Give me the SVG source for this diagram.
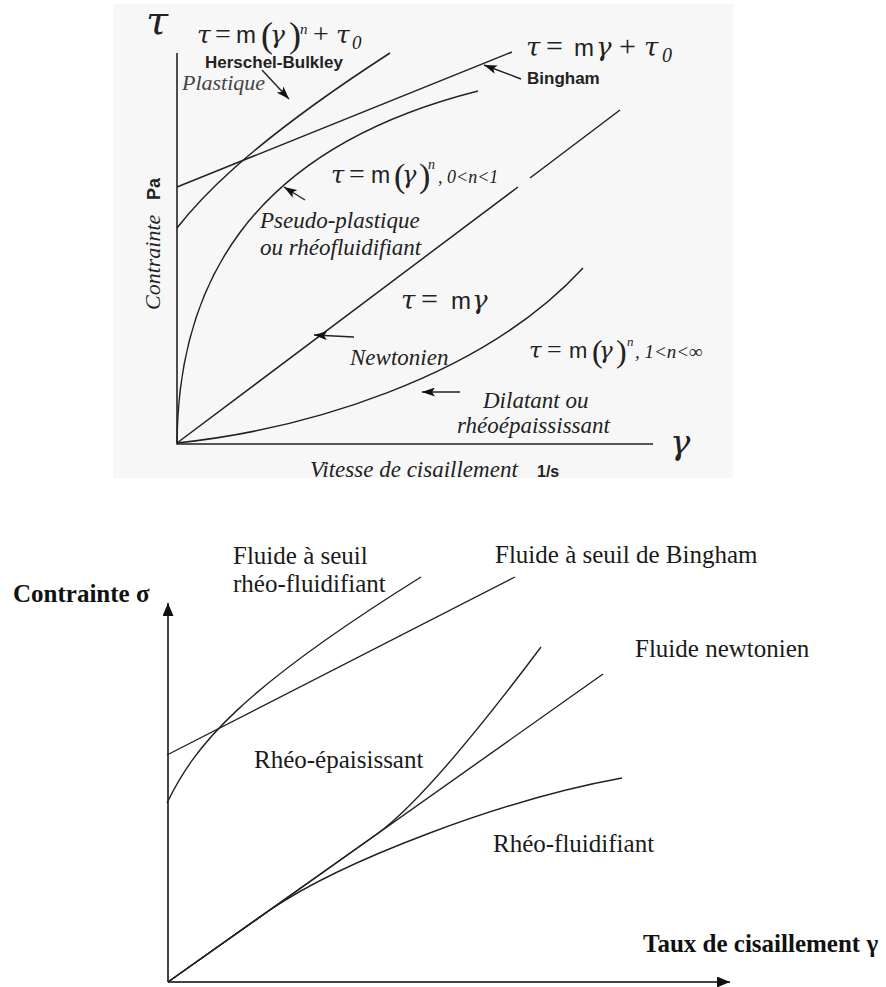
<svg xmlns="http://www.w3.org/2000/svg" width="886" height="987" viewBox="0 0 886 987">
<defs>
<style>
.ax{fill:none;stroke:#222;stroke-width:1.6}
.cv{fill:none;stroke:#222;stroke-width:1.5}
.ar{fill:none;stroke:#222;stroke-width:1.4}
.bax{fill:none;stroke:#444;stroke-width:2}
.bcv{fill:none;stroke:#222;stroke-width:1.4}
.it{font-family:"Liberation Serif",serif;font-style:italic;fill:#222}
.gk{font-family:"DejaVu Serif","Liberation Serif",serif;font-style:italic;fill:#222}
.sr{font-family:"Liberation Serif",serif;fill:#222}
.sb{font-family:"Liberation Sans",Arial,sans-serif;font-weight:bold;fill:#222}
.ss{font-family:"Liberation Sans",Arial,sans-serif;fill:#222}
.bt{font-family:"Liberation Serif",serif;font-size:25px;fill:#1a1a1a}
.bb{font-family:"Liberation Serif",serif;font-size:25px;font-weight:bold;fill:#111}
</style>
<marker id="ah" markerUnits="userSpaceOnUse" markerWidth="14" markerHeight="9" refX="13" refY="4.5" orient="auto"><path d="M0,0 L13,4.5 L0,9 L3,4.5 z" fill="#111"/></marker>
<marker id="bah" markerUnits="userSpaceOnUse" markerWidth="14" markerHeight="12" refX="13" refY="5.5" orient="auto"><path d="M0,0 L13,5.5 L0,11 z" fill="#111"/></marker>
</defs>
<rect width="886" height="987" fill="#fff"/>

<g id="top-chart">
<rect x="113" y="4" width="620" height="474" fill="#f7f7f7"/>
<g id="top-axes">
<path class="ax" d="M177,53 V444 H653"/>
<text class="gk" x="146" y="34" font-size="40">τ</text>
<text class="gk" x="670" y="454" font-size="34">γ</text>
<text class="it" transform="translate(160,310) rotate(-90)" font-size="22">Contrainte</text>
<text class="sb" transform="translate(160,200) rotate(-90)" font-size="18">Pa</text>
<text class="it" x="310" y="477" font-size="23">Vitesse de cisaillement</text>
<text class="sb" x="537" y="477" font-size="16">1/s</text>
</g>
<g id="top-curves">
<path id="hb" class="cv" d="M177,228 C195,205 240,150 390,53"/>
<path id="bingham" class="cv" d="M177,187 L512,52"/>
<path id="pseudo" class="cv" d="M177,443 C178,290 245,150 478,91"/>
<path id="newton" class="cv" d="M177,443 L518,187 M530,178 L620,110"/>
<path id="dilatant" class="cv" d="M177,443 C300,430 480,380 583,268"/>
</g>
<g id="top-arrows">
<path class="ar" d="M262,70 L289,99" marker-end="url(#ah)"/>
<path class="ar" d="M521,79 L484,65" marker-end="url(#ah)"/>
<path class="ar" d="M305,200 L284,187" marker-end="url(#ah)"/>
<path class="ar" d="M354,337 L314,335" marker-end="url(#ah)"/>
<path class="ar" d="M460,392 L422,392" marker-end="url(#ah)"/>
</g>
<g id="label-hb">
<text class="sr" y="43" font-size="28"><tspan class="gk" x="197" font-size="25">τ</tspan><tspan x="215">=</tspan><tspan class="ss" x="236" font-size="24">m</tspan><tspan x="261" y="47" font-size="36">(</tspan><tspan class="gk" x="270" y="43" font-size="25">γ</tspan><tspan x="289" y="47" font-size="36">)</tspan><tspan class="it" x="300" y="34" font-size="15">n</tspan><tspan x="313" y="43">+</tspan><tspan class="gk" x="336" font-size="25">τ</tspan><tspan class="it" x="352" y="49" font-size="19">0</tspan></text>
<text class="sb" x="205" y="68" font-size="17">Herschel-Bulkley</text>
<text class="it" x="182" y="90" font-size="22" style="fill:#444">Plastique</text>
</g>
<g id="label-bingham">
<text class="sr" y="56" font-size="30"><tspan class="gk" x="526" font-size="26">τ</tspan><tspan x="546">=</tspan><tspan class="ss" x="574" font-size="24">m</tspan><tspan class="gk" x="596" font-size="26">γ</tspan><tspan x="619">+</tspan><tspan class="gk" x="644" font-size="26">τ</tspan><tspan class="it" x="662" y="62" font-size="20">0</tspan></text>
<text class="sb" x="527" y="84" font-size="17">Bingham</text>
</g>
<g id="label-pseudo">
<text class="sr" y="183" font-size="28"><tspan class="gk" x="331" font-size="24">τ</tspan><tspan x="349">=</tspan><tspan class="ss" x="371" font-size="23">m</tspan><tspan x="394" y="187" font-size="34">(</tspan><tspan class="gk" x="402" y="183" font-size="24">γ</tspan><tspan x="419" y="187" font-size="34">)</tspan><tspan class="it" x="428" y="169" font-size="14">n</tspan><tspan class="it" x="438" y="183" font-size="18">, 0&lt;n&lt;1</tspan></text>
<text class="it" x="260" y="228" font-size="23">Pseudo-plastique</text>
<text class="it" x="260" y="255" font-size="23">ou rhéofluidifiant</text>
</g>
<g id="label-newton">
<text class="sr" y="309" font-size="30"><tspan class="gk" x="401" font-size="26">τ</tspan><tspan x="421">=</tspan><tspan class="ss" x="451" font-size="24">m</tspan><tspan class="gk" x="472" font-size="26">γ</tspan></text>
<text class="it" x="350" y="365" font-size="23">Newtonien</text>
</g>
<g id="label-dilatant">
<text class="sr" y="358" font-size="26"><tspan class="gk" x="529" font-size="23">τ</tspan><tspan x="547">=</tspan><tspan class="ss" x="569" font-size="22">m</tspan><tspan x="592" y="362" font-size="32">(</tspan><tspan class="gk" x="599" y="358" font-size="23">γ</tspan><tspan x="616" y="362" font-size="32">)</tspan><tspan class="it" x="627" y="346" font-size="13">n</tspan><tspan class="it" x="635" y="358" font-size="19">, 1&lt;n&lt;∞</tspan></text>
<text class="it" x="483" y="408" font-size="23">Dilatant ou</text>
<text class="it" x="457" y="433" font-size="23">rhéoépaississant</text>
</g>
</g>

<g id="bottom-chart">
<g id="bottom-axes">
<path class="bax" d="M168,982 V603" marker-end="url(#bah)"/>
<path class="bax" d="M168,982 H730" marker-end="url(#bah)"/>
<text class="bb" x="13" y="602">Contrainte σ</text>
<text class="bb" x="643" y="952">Taux de cisaillement γ</text>
</g>
<g id="bottom-curves">
<path id="b-hb" class="bcv" d="M167,803 C195,745 240,690 421,577"/>
<path id="b-bingham" class="bcv" d="M167,755 L515,577"/>
<path id="b-newton" class="bcv" d="M168,982 L603,674"/>
<path id="b-thick" class="bcv" d="M168,982 L377,834 C420,803 490,715 541,647"/>
<path id="b-thin" class="bcv" d="M168,982 L270,910 C340,862 500,800 622,778"/>
</g>
<g id="bottom-labels">
<text class="bt" x="233" y="564">Fluide à seuil</text>
<text class="bt" x="233" y="592">rhéo-fluidifiant</text>
<text class="bt" x="495" y="563">Fluide à seuil de Bingham</text>
<text class="bt" x="635" y="657">Fluide newtonien</text>
<text class="bt" x="254" y="768">Rhéo-épaisissant</text>
<text class="bt" x="493" y="852">Rhéo-fluidifiant</text>
</g>
</g>
</svg>
